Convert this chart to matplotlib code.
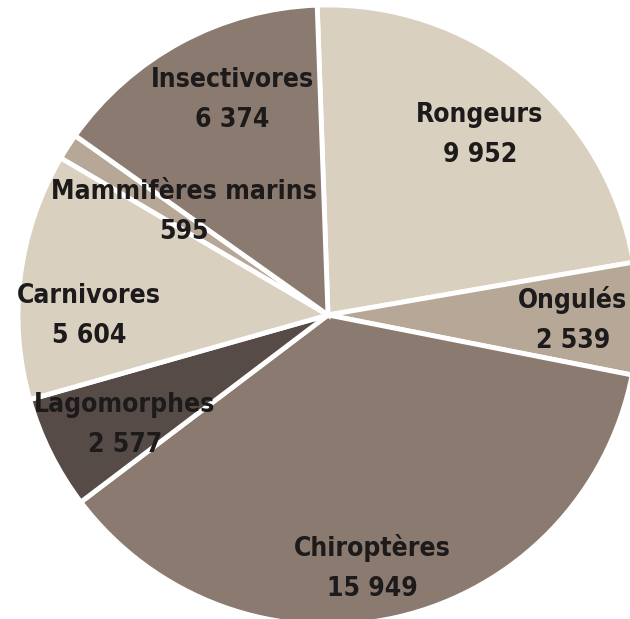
import matplotlib
matplotlib.use("Agg")
import matplotlib.pyplot as plt
import numpy as np

# ordre horaire à partir du haut
categories = ["Rongeurs", "Ongulés", "Chiroptères", "Lagomorphes",
              "Carnivores", "Mammifères marins", "Insectivores"]
valeurs = [9952, 2539, 15949, 2577, 5604, 595, 6374]
couleurs = ["#d9d0c0", "#b6a797", "#8a7a6f", "#564b47",
            "#d9d0c0", "#b6a797", "#8a7a6f"]
# placement des étiquettes : distance (fraction du rayon), décalage angulaire (deg)
dist_labels = [0.76, 0.79, 0.83, 0.745, 0.77, 0.57, 0.76]
decal_labels = [-1, -0.5, -3, 2, 7.6, -2.7, -4.3]


def fmt(v):
    return f"{v:,}".replace(",", " ")


plt.rcParams['font.family'] = ['Liberation Sans Narrow', 'DejaVu Sans']

fig = plt.figure(figsize=(6.3, 6.19), dpi=100)
ax = fig.add_axes([0, 0, 1, 1])

wedges, _ = ax.pie(valeurs, colors=couleurs, startangle=92, counterclock=False,
                   radius=1.0,
                   wedgeprops=dict(edgecolor="white", linewidth=3.5))

for w, nom, v, d, da in zip(wedges, categories, valeurs, dist_labels, decal_labels):
    ang = np.deg2rad((w.theta1 + w.theta2) / 2 + da)
    x, y = d * np.cos(ang), d * np.sin(ang)
    ax.text(x, y, f"{nom}\n{fmt(v)}", ha="center", va="center",
            fontsize=19, fontweight="bold", fontstretch="condensed",
            color="#1c1a1a", linespacing=1.7)

ax.set_xlim(-328 / 310, 302 / 310)
ax.set_ylim(-304 / 310, 315 / 310)
ax.set_aspect("auto")
ax.axis("off")

fig.savefig("out.png", dpi=100, facecolor="white")
